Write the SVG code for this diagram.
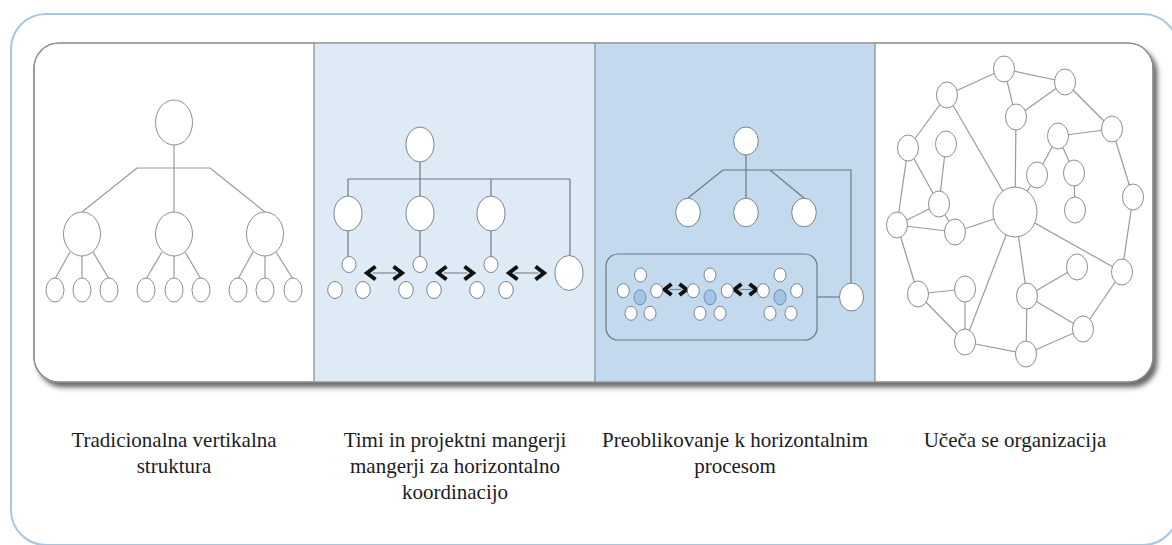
<svg xmlns="http://www.w3.org/2000/svg" xmlns:xlink="http://www.w3.org/1999/xlink" width="1172" height="545" viewBox="0 0 1172 545">
<defs>
<style>
.frame{fill:#ffffff;stroke:#a6c6e3;stroke-width:2}
.panel{fill:#ffffff;stroke:#8a8a8a;stroke-width:1.2}
.pstroke{fill:none;stroke:#8a8a8a;stroke-width:1.2}
.div{stroke:#8a8a8a;stroke-width:1.2}
.nd{fill:#ffffff;stroke:#8e8e8e;stroke-width:1}
.nd2{fill:#ffffff;stroke:#7b838b;stroke-width:1}
.bl{fill:#a3c5e5;stroke:#6d8db0;stroke-width:1}
.ln1{fill:none;stroke:#9a9a9a;stroke-width:1.2}
.ln2{fill:none;stroke:#6f7981;stroke-width:1.2}
.box{fill:none;stroke:#6f7981;stroke-width:1.2}
.chev{fill:none;stroke:#111111;stroke-width:4;stroke-linejoin:miter;stroke-miterlimit:10}
.shaft{fill:none;stroke:#7f8790;stroke-width:1.2}
.lbl{font-size:21px;fill:#1c1c1c;text-anchor:middle}
</style>
<filter id="sh" x="-5%" y="-5%" width="110%" height="115%">
<feDropShadow dx="4" dy="5" stdDeviation="2.5" flood-color="#3a3a3a" flood-opacity="0.75"/>
</filter>
<g id="arrL">
<path class="shaft" d="M-12,0 H12"/>
<path class="chev" d="M-9,-6.5 L-17.5,0 L-9,6.5"/>
<path class="chev" d="M9,-6.5 L17.5,0 L9,6.5"/>
</g>
<g id="arrS">
<path class="shaft" d="M-6,0 H6"/>
<path class="chev" d="M-4,-5.5 L-11,0 L-4,5.5"/>
<path class="chev" d="M4,-5.5 L11,0 L4,5.5"/>
</g>
</defs>

<rect id="outer-frame" class="frame" x="11" y="14" width="1167" height="531" rx="35" ry="35"/>

<g id="panels">
<rect class="panel" x="34" y="43" width="1119" height="339" rx="25" ry="25" filter="url(#sh)"/>
<rect x="314" y="43.6" width="281" height="337.8" fill="#deeaf6"/>
<rect x="595" y="43.6" width="280" height="337.8" fill="#c3d9ee"/>
<line class="div" x1="314" y1="43" x2="314" y2="382"/>
<line class="div" x1="595" y1="43" x2="595" y2="382"/>
<line class="div" x1="875" y1="43" x2="875" y2="382"/>
<rect class="pstroke" x="34" y="43" width="1119" height="339" rx="25" ry="25"/>
</g>

<g id="connectors">
<g id="p1-links" class="ln1">
<path d="M174,145 V212"/>
<path d="M137,168 H210"/>
<path d="M137,168 L82,212"/>
<path d="M210,168 L265,212"/>
<path d="M70,252 L55,279 M82,256 V278 M93,252 L109,279"/>
<path d="M162,252 L146,279 M174,256 V278 M185,252 L201,279"/>
<path d="M253,252 L238,279 M265,256 V278 M276,252 L293,279"/>
</g>
<g id="p2-links" class="ln2">
<path d="M420,162 V196"/>
<path d="M348,179 H570"/>
<path d="M348,179 V196 M491,179 V196 M570,179 V256"/>
<path d="M348,231 V256 M420,231 V256 M491,231 V256"/>
</g>
<g id="p2-arrows">
<use xlink:href="#arrL" x="384.5" y="273"/>
<use xlink:href="#arrL" x="455.5" y="273"/>
<use xlink:href="#arrL" x="526.5" y="273"/>
</g>
<g id="p3-links" class="ln2">
<path d="M746,155 V198"/>
<path d="M723,170 H851 V283"/>
<path d="M723,170 L688,198"/>
<path d="M770,170 L804,198"/>
<path d="M817,297 H840"/>
</g>
<g id="p3-arrows">
<use xlink:href="#arrS" x="675.5" y="289.5"/>
<use xlink:href="#arrS" x="745.5" y="289.5"/>
</g>
<g id="p4-links" class="ln1">
<path d="M1004,69 L1065,82"/>
<path d="M1004,69 L947,95"/>
<path d="M1004,69 L1016,117"/>
<path d="M1065,82 L1016,117"/>
<path d="M1065,82 L1112,129"/>
<path d="M947,95 L908,148"/>
<path d="M947,95 L1015,212"/>
<path d="M1016,117 L1015,212"/>
<path d="M1058,136 L1112,129"/>
<path d="M1058,136 L1037,175"/>
<path d="M1058,136 L1074,173"/>
<path d="M1074,173 L1075,210"/>
<path d="M946,144 L939,204"/>
<path d="M908,148 L939,204"/>
<path d="M908,148 L897,225"/>
<path d="M897,225 L939,204"/>
<path d="M897,225 L955,232"/>
<path d="M939,204 L955,232"/>
<path d="M955,232 L1015,212"/>
<path d="M1037,175 L1015,212"/>
<path d="M1015,212 L1122,272"/>
<path d="M1015,212 L965,342"/>
<path d="M1015,212 L1027,296"/>
<path d="M1133,197 L1122,272"/>
<path d="M1133,197 L1112,129"/>
<path d="M1077,267 L1027,296"/>
<path d="M1027,296 L1083,329"/>
<path d="M1027,296 L1026,354"/>
<path d="M1083,329 L1026,354"/>
<path d="M1083,329 L1122,272"/>
<path d="M918,294 L965,289"/>
<path d="M918,294 L965,342"/>
<path d="M965,289 L965,342"/>
<path d="M965,342 L1026,354"/>
<path d="M897,225 L918,294"/>
</g>
</g>

<g id="panel1-nodes" class="nd">
<g id="p1-top"><ellipse cx="174" cy="122.5" rx="18.5" ry="22.5"/></g>
<g id="p1-mid-1"><ellipse cx="82" cy="234" rx="18.5" ry="22"/></g>
<g id="p1-mid-2"><ellipse cx="174" cy="234" rx="18.5" ry="22"/></g>
<g id="p1-mid-3"><ellipse cx="265" cy="234" rx="18.5" ry="22"/></g>
<g id="p1-leaf-1"><ellipse cx="55" cy="290" rx="9" ry="12"/></g>
<g id="p1-leaf-2"><ellipse cx="82" cy="290" rx="9" ry="12"/></g>
<g id="p1-leaf-3"><ellipse cx="109" cy="290" rx="9" ry="12"/></g>
<g id="p1-leaf-4"><ellipse cx="146" cy="290" rx="9" ry="12"/></g>
<g id="p1-leaf-5"><ellipse cx="174" cy="290" rx="9" ry="12"/></g>
<g id="p1-leaf-6"><ellipse cx="201" cy="290" rx="9" ry="12"/></g>
<g id="p1-leaf-7"><ellipse cx="238" cy="290" rx="9" ry="12"/></g>
<g id="p1-leaf-8"><ellipse cx="265" cy="290" rx="9" ry="12"/></g>
<g id="p1-leaf-9"><ellipse cx="293" cy="290" rx="9" ry="12"/></g>
</g>

<g id="panel2-nodes" class="nd2">
<g id="p2-top"><ellipse cx="420" cy="144.5" rx="14" ry="17.5"/></g>
<g id="p2-mid-1"><ellipse cx="348" cy="213.5" rx="14" ry="17.5"/></g>
<g id="p2-mid-2"><ellipse cx="420" cy="213.5" rx="14" ry="17.5"/></g>
<g id="p2-mid-3"><ellipse cx="491" cy="213.5" rx="14" ry="17.5"/></g>
<g id="p2-side"><ellipse cx="569" cy="273" rx="14" ry="17.5"/></g>
<g id="p2-s-1"><ellipse cx="349" cy="264.5" rx="7" ry="8"/></g>
<g id="p2-s-2"><ellipse cx="420" cy="264.5" rx="7" ry="8"/></g>
<g id="p2-s-3"><ellipse cx="491" cy="264.5" rx="7" ry="8"/></g>
<g id="p2-b-1"><ellipse cx="335" cy="290" rx="7.3" ry="8.5"/></g>
<g id="p2-b-2"><ellipse cx="363" cy="290" rx="7.3" ry="8.5"/></g>
<g id="p2-b-3"><ellipse cx="406" cy="290" rx="7.3" ry="8.5"/></g>
<g id="p2-b-4"><ellipse cx="434" cy="290" rx="7.3" ry="8.5"/></g>
<g id="p2-b-5"><ellipse cx="477" cy="290" rx="7.3" ry="8.5"/></g>
<g id="p2-b-6"><ellipse cx="506" cy="290" rx="7.3" ry="8.5"/></g>
</g>

<g id="panel3-nodes" class="nd2">
<g id="p3-top"><ellipse cx="746" cy="141" rx="12.3" ry="14"/></g>
<g id="p3-mid-1"><ellipse cx="688" cy="212.5" rx="12.3" ry="14.3"/></g>
<g id="p3-mid-2"><ellipse cx="746" cy="212.5" rx="12.3" ry="14.3"/></g>
<g id="p3-mid-3"><ellipse cx="804" cy="212.5" rx="12.3" ry="14.3"/></g>
<g id="p3-side"><ellipse cx="851.5" cy="297" rx="12" ry="14"/></g>
<g id="p3-process-box"><rect class="box" x="606" y="254" width="211" height="86" rx="12" ry="12"/></g>
<g id="p3-c1-top"><ellipse cx="640.5" cy="275" rx="6" ry="7"/></g>
<g id="p3-c1-left"><ellipse cx="623.3" cy="290.7" rx="6" ry="7"/></g>
<g id="p3-c1-right"><ellipse cx="656.7" cy="290.7" rx="6" ry="7"/></g>
<g id="p3-c1-core"><ellipse class="bl" cx="640" cy="297.3" rx="6" ry="7.5"/></g>
<g id="p3-c1-bl"><ellipse cx="631" cy="313.3" rx="6" ry="7"/></g>
<g id="p3-c1-br"><ellipse cx="650" cy="313.3" rx="6" ry="7"/></g>
<g id="p3-c2-top"><ellipse cx="710" cy="275" rx="6" ry="7"/></g>
<g id="p3-c2-left"><ellipse cx="693.3" cy="290.7" rx="6" ry="7"/></g>
<g id="p3-c2-right"><ellipse cx="727.3" cy="290.7" rx="6" ry="7"/></g>
<g id="p3-c2-core"><ellipse class="bl" cx="710" cy="297.3" rx="6" ry="7.5"/></g>
<g id="p3-c2-bl"><ellipse cx="700" cy="313.3" rx="6" ry="7"/></g>
<g id="p3-c2-br"><ellipse cx="720" cy="313.3" rx="6" ry="7"/></g>
<g id="p3-c3-top"><ellipse cx="780" cy="275" rx="6" ry="7"/></g>
<g id="p3-c3-left"><ellipse cx="763.3" cy="290.7" rx="6" ry="7"/></g>
<g id="p3-c3-right"><ellipse cx="796.7" cy="290.7" rx="6" ry="7"/></g>
<g id="p3-c3-core"><ellipse class="bl" cx="780" cy="297.3" rx="6" ry="7.5"/></g>
<g id="p3-c3-bl"><ellipse cx="770" cy="313.3" rx="6" ry="7"/></g>
<g id="p3-c3-br"><ellipse cx="791" cy="313.3" rx="6" ry="7"/></g>
</g>

<g id="panel4-nodes" class="nd">
<g id="p4-a"><ellipse cx="1004" cy="69" rx="10.5" ry="13"/></g>
<g id="p4-b"><ellipse cx="1065" cy="82" rx="10.5" ry="13"/></g>
<g id="p4-c"><ellipse cx="947" cy="95" rx="10.5" ry="13"/></g>
<g id="p4-d"><ellipse cx="1016" cy="117" rx="10.5" ry="13"/></g>
<g id="p4-e"><ellipse cx="1112" cy="129" rx="10.5" ry="13"/></g>
<g id="p4-f"><ellipse cx="1058" cy="136" rx="10.5" ry="13"/></g>
<g id="p4-g"><ellipse cx="908" cy="148" rx="10.5" ry="13"/></g>
<g id="p4-h"><ellipse cx="946" cy="144" rx="10.5" ry="13"/></g>
<g id="p4-i"><ellipse cx="1037" cy="175" rx="10.5" ry="13"/></g>
<g id="p4-j"><ellipse cx="1074" cy="173" rx="10.5" ry="13"/></g>
<g id="p4-k"><ellipse cx="939" cy="204" rx="10.5" ry="13"/></g>
<g id="p4-hub"><ellipse cx="1015" cy="212" rx="22" ry="25"/></g>
<g id="p4-m"><ellipse cx="1075" cy="210" rx="10.5" ry="13"/></g>
<g id="p4-n"><ellipse cx="1133" cy="197" rx="10.5" ry="13"/></g>
<g id="p4-o"><ellipse cx="897" cy="225" rx="10.5" ry="13"/></g>
<g id="p4-p"><ellipse cx="955" cy="232" rx="10.5" ry="13"/></g>
<g id="p4-q"><ellipse cx="1122" cy="272" rx="10.5" ry="13"/></g>
<g id="p4-r"><ellipse cx="1077" cy="267" rx="10.5" ry="13"/></g>
<g id="p4-s"><ellipse cx="918" cy="294" rx="10.5" ry="13"/></g>
<g id="p4-t"><ellipse cx="965" cy="289" rx="10.5" ry="13"/></g>
<g id="p4-u"><ellipse cx="1027" cy="296" rx="10.5" ry="13"/></g>
<g id="p4-v"><ellipse cx="1083" cy="329" rx="10.5" ry="13"/></g>
<g id="p4-w"><ellipse cx="965" cy="342" rx="10.5" ry="13"/></g>
<g id="p4-x"><ellipse cx="1026" cy="354" rx="10.5" ry="13"/></g>
</g>

<g id="labels" class="lbl" font-family="'Liberation Serif', 'DejaVu Serif', 'Times New Roman', serif">
<text x="174" y="447" font-family="'Liberation Serif', 'DejaVu Serif', serif">Tradicionalna vertikalna</text>
<text x="174" y="473" font-family="'Liberation Serif', 'DejaVu Serif', serif">struktura</text>
<text x="455" y="447" font-family="'Liberation Serif', 'DejaVu Serif', serif">Timi in projektni mangerji</text>
<text x="455" y="473" font-family="'Liberation Serif', 'DejaVu Serif', serif">mangerji za horizontalno</text>
<text x="455" y="499" font-family="'Liberation Serif', 'DejaVu Serif', serif">koordinacijo</text>
<text x="735" y="447" font-family="'Liberation Serif', 'DejaVu Serif', serif">Preoblikovanje k horizontalnim</text>
<text x="735" y="473" font-family="'Liberation Serif', 'DejaVu Serif', serif">procesom</text>
<text x="1015" y="447" font-family="'Liberation Serif', 'DejaVu Serif', serif">Učeča se organizacija</text>
</g>
</svg>
